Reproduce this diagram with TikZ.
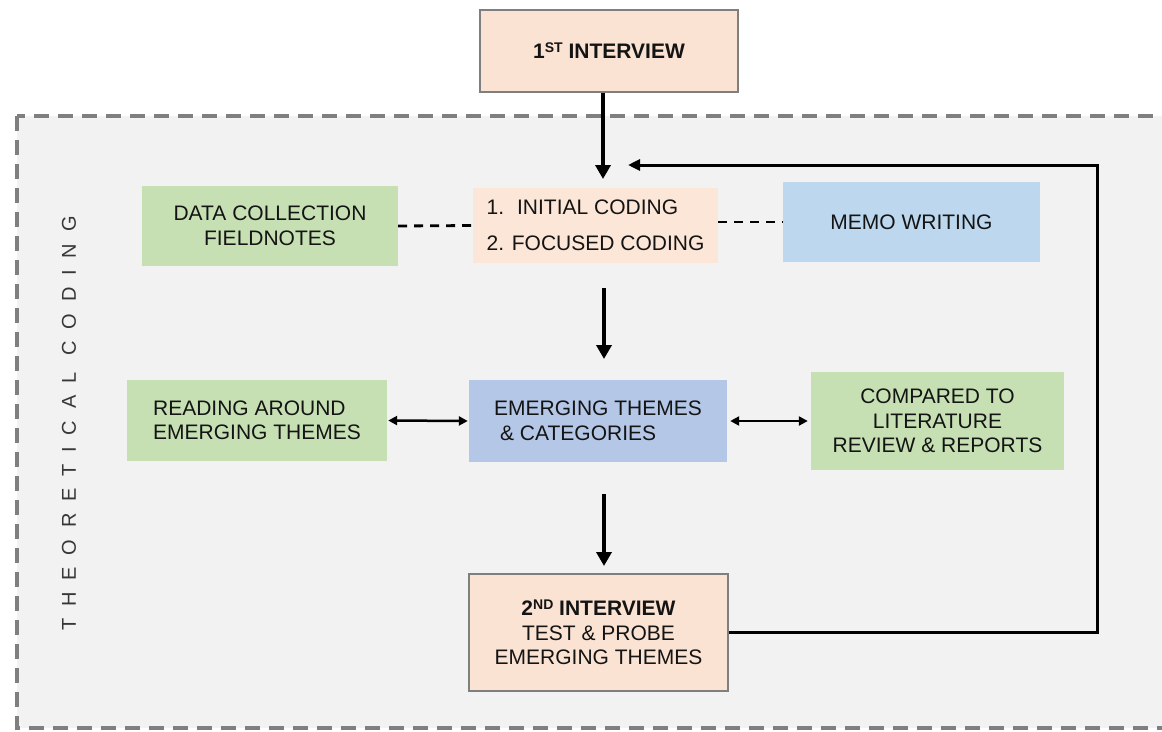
\documentclass[tikz,border=0pt]{standalone}
\usepackage{fontspec}
\setmainfont{Liberation Sans}
\usetikzlibrary{arrows.meta}

\definecolor{peach}{HTML}{FBE3D3}
\definecolor{peachlight}{HTML}{FCE6D8}
\definecolor{leaf}{HTML}{C6E0B4}
\definecolor{sky}{HTML}{BDD7EE}
\definecolor{steel}{HTML}{B4C7E7}
\definecolor{panel}{HTML}{F2F2F2}
\definecolor{edge}{HTML}{7F7F7F}
\definecolor{ink}{HTML}{141414}

\newcommand{\ordsup}[1]{\raisebox{0.55ex}{\fontsize{14}{14}\selectfont #1}}

\begin{document}
\begin{tikzpicture}[x=1pt,y=-1pt,
  box/.style={rectangle, inner sep=0pt, text=ink, align=center,
    font=\fontsize{21}{24.5}\selectfont},
  interview/.style={box, fill=peach, draw=edge, line width=2.5pt},
  greenbox/.style={box, fill=leaf},
  bluebox/.style={box, fill=sky},
  steelbox/.style={box, fill=steel},
  codebox/.style={box, fill=peachlight},
  flow/.style={draw=black, line width=3.5pt, -{Triangle[width=15pt,length=14pt]}},
  loopback/.style={draw=black, line width=3pt, line join=miter,
    -{Triangle[width=11pt,length=12pt]}},
  link/.style={draw=black, line width=2.5pt,
    {Triangle[width=9pt,length=9pt]}-{Triangle[width=9pt,length=9pt]}},
  tie/.style={draw=black, line width=2.8pt, dash pattern=on 9pt off 7pt},
]
\useasboundingbox (0,0) rectangle (1162,731);
\clip (0,0) rectangle (1162,731);
\fill[white] (0,0) rectangle (1162,731);

% dashed panel holding the coding cycle
\draw[fill=panel, draw=edge, line width=3.5pt, dash pattern=on 15pt off 9pt]
  (17,116) rectangle (1185,728);

\node[rotate=90, text=ink!85,
  font=\fontsize{20}{20}\selectfont\addfontfeature{LetterSpace=59}]
  (label) at (69,423.5) {THEORETICAL CODING};

% boxes
\node[interview, minimum width=258pt, minimum height=82pt] (first) at (609,51)
  {\bfseries 1\ordsup{ST} INTERVIEW};

\node[codebox, minimum width=245pt, minimum height=75pt, align=left,
  font=\fontsize{21}{36}\selectfont] (initial) at (595.5,225.5)
  {1.\hspace{13pt}INITIAL CODING\\2. FOCUSED CODING};

\node[greenbox, minimum width=256pt, minimum height=80pt] (data) at (270,226)
  {DATA COLLECTION\\FIELDNOTES};

\node[bluebox, minimum width=257pt, minimum height=80pt] (memo) at (911.5,222)
  {MEMO WRITING};

\node[greenbox, minimum width=260pt, minimum height=81pt, align=left]
  (reading) at (257,420.5) {READING AROUND\\EMERGING THEMES};

\node[steelbox, minimum width=258pt, minimum height=82pt, align=left]
  (emerging) at (598,421) {EMERGING THEMES\\\hspace{6pt}\& CATEGORIES};

\node[greenbox, minimum width=253pt, minimum height=98pt] (compared)
  at (937.5,421) {COMPARED TO\\LITERATURE\\REVIEW \& REPORTS};

\node[interview, minimum width=259pt, minimum height=117pt] (second)
  at (598.5,632.5)
  {{\bfseries 2\ordsup{ND} INTERVIEW}\\TEST \& PROBE\\EMERGING THEMES};

% free arrow ends
\coordinate (a1e) at (603,179);
\coordinate (a2s) at (604,288);
\coordinate (a2e) at (604,359);
\coordinate (a3s) at (604,494);
\coordinate (a3e) at (604,566);
\coordinate (fbc) at (1097,165);
\coordinate (fbe) at (628,165);

% connectors
\draw[flow] (a1e |- first.south) -- (a1e);
\draw[flow] (a2s) -- (a2e);
\draw[flow] (a3s) -- (a3e);
\draw[loopback] (second.east) -| (fbc) -- (fbe);

\draw[tie] (data.east) -- (initial.west);
\draw[tie] (initial.east |- memo.west) -- (memo.west);

\draw[link, shorten <=1pt, shorten >=1pt] (reading.east) -- (emerging.west);
\draw[link, shorten <=3pt, shorten >=3pt] (emerging.east) -- (compared.west);
\end{tikzpicture}
\end{document}
